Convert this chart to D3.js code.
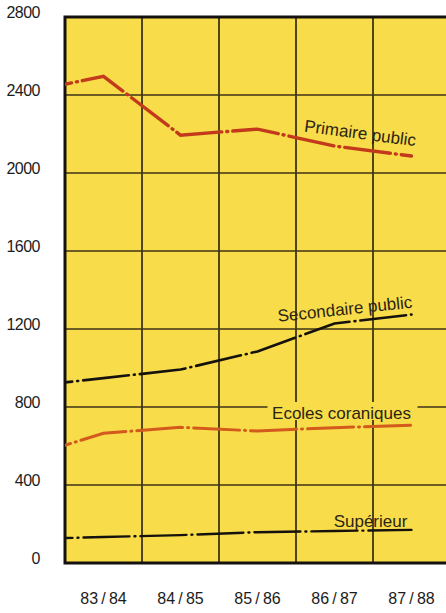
<!DOCTYPE html>
<html>
<head>
<meta charset="utf-8">
<script src="https://cdn.jsdelivr.net/npm/d3@7"></script>
<style>
  body { margin: 0; background: #fff; }
  svg { display: block; }
</style>
</head>
<body>
<div id="chart"></div>
<script>
// school years; the first one only shows as the stub of each line at the left edge
const years = ["82/83", "83/84", "84/85", "85/86", "86/87", "87/88"];
const yTicks = [0, 400, 800, 1200, 1600, 2000, 2400, 2800];

// enrolment (thousands)
const primairePublic = [2414, 2496, 2194, 2225, 2138, 2087];
const secondairePublic = [904, 948, 992, 1085, 1228, 1274];
const ecolesCoraniques = [543, 665, 696, 677, 694, 706];
const superieur = [123, 133, 143, 158, 164, 170];

const width = 446, height = 613;
const margin = { top: 17, left: 65, bottom: 50 };
const step = 77;
const yellow = "#f8dc4a";

const svg = d3.select("#chart")
    .append("svg")
    .attr("width", width)
    .attr("height", height);

// set the ranges
var x = d3.scaleBand()
    .domain(years)
    .range([margin.left - step, margin.left + step * (years.length - 1)]);
var y = d3.scaleLinear()
    .domain([0, 2800])
    .range([height - margin.bottom, margin.top]);

const plotRight = width + 4;
const mid = d => x(d) + x.bandwidth() / 2;

svg.append("defs").append("clipPath")
    .attr("id", "clip")
    .append("rect")
    .attr("x", margin.left)
    .attr("y", margin.top)
    .attr("width", plotRight - margin.left)
    .attr("height", y(0) - margin.top);

// yellow plot background
svg.append("rect")
    .attr("x", margin.left)
    .attr("y", margin.top)
    .attr("width", plotRight - margin.left)
    .attr("height", y(0) - margin.top)
    .style("fill", yellow);

// horizontal grid
svg.append("g")
    .selectAll("line")
    .data(yTicks.slice(1, -1))
    .join("line")
    .attr("x1", margin.left)
    .attr("x2", plotRight)
    .attr("y1", d => y(d))
    .attr("y2", d => y(d))
    .style("stroke", "#3e3517")
    .style("stroke-width", "1.6px");

// vertical grid at band boundaries
svg.append("g")
    .selectAll("line")
    .data(years.slice(2))
    .join("line")
    .attr("x1", d => x(d))
    .attr("x2", d => x(d))
    .attr("y1", margin.top)
    .attr("y2", y(0))
    .style("stroke", "#3e3517")
    .style("stroke-width", "1.8px");

// frame: top, left, bottom
svg.append("path")
    .attr("d", "M" + plotRight + "," + y(2800) + "H" + margin.left + "V" + y(0) + "H" + plotRight)
    .style("fill", "none")
    .style("stroke", "#141210")
    .style("stroke-width", "3px");

// knock-out behind the "Ecoles coraniques" label
svg.append("rect")
    .attr("x", mid("85/86") + 10)
    .attr("y", y(800) - 5)
    .attr("width", 150)
    .attr("height", 18)
    .style("fill", yellow);

const series = [
    { name: "Primaire public", values: primairePublic, color: "#c23a1b", w: 3.4 },
    { name: "Secondaire public", values: secondairePublic, color: "#15120e", w: 2.6 },
    { name: "Ecoles coraniques", values: ecolesCoraniques, color: "#d25a1d", w: 3 },
    { name: "Supérieur", values: superieur, color: "#15120e", w: 2.4 }
];

var line = d3.line()
    .x((d, i) => mid(years[i]))
    .y(d => y(d));

svg.append("g")
    .attr("clip-path", "url(#clip)")
    .selectAll("path")
    .data(series)
    .join("path")
    .style("fill", "none")
    .style("stroke", d => d.color)
    .style("stroke-width", d => d.w + "px")
    .style("stroke-linecap", "round")
    .style("stroke-dasharray", "46 5 1 5")
    .attr("d", d => line(d.values));

// series labels written along the lines
const labelFont = "'Liberation Sans', Arial, sans-serif";
const labels = [
    { text: "Primaire public", x: mid("86/87") + 25, y: y(2175), rot: 7.5 },
    { text: "Secondaire public", x: mid("86/87") + 11, y: y(1273), rot: -6 },
    { text: "Ecoles coraniques", x: mid("86/87") + 7, y: y(739), rot: 0 },
    { text: "Supérieur", x: mid("86/87") + 36, y: y(185), rot: 0 }
];
svg.append("g")
    .selectAll("text")
    .data(labels)
    .join("text")
    .attr("transform", d => "translate(" + d.x + "," + d.y + ") rotate(" + d.rot + ")")
    .style("text-anchor", "middle")
    .style("font-family", labelFont)
    .style("font-size", "17px")
    .style("fill", "#2b2414")
    .text(d => d.text);

// Y axis labels
svg.append("g")
    .selectAll("text")
    .data(yTicks)
    .join("text")
    .attr("x", 40)
    .attr("y", d => y(d) + 1)
    .style("text-anchor", "end")
    .style("font-family", labelFont)
    .style("font-size", "16px")
    .style("letter-spacing", "-0.5px")
    .style("fill", "#1c1c1c")
    .text(d => d);

// X axis labels
svg.append("g")
    .selectAll("text")
    .data(years.slice(1))
    .join("text")
    .attr("x", d => mid(d))
    .attr("y", 604)
    .style("text-anchor", "middle")
    .style("font-family", labelFont)
    .style("font-size", "16px")
    .style("fill", "#1c1c1c")
    .text(d => d.replace("/", "\u2009/\u2009"));
</script>
</body>
</html>
